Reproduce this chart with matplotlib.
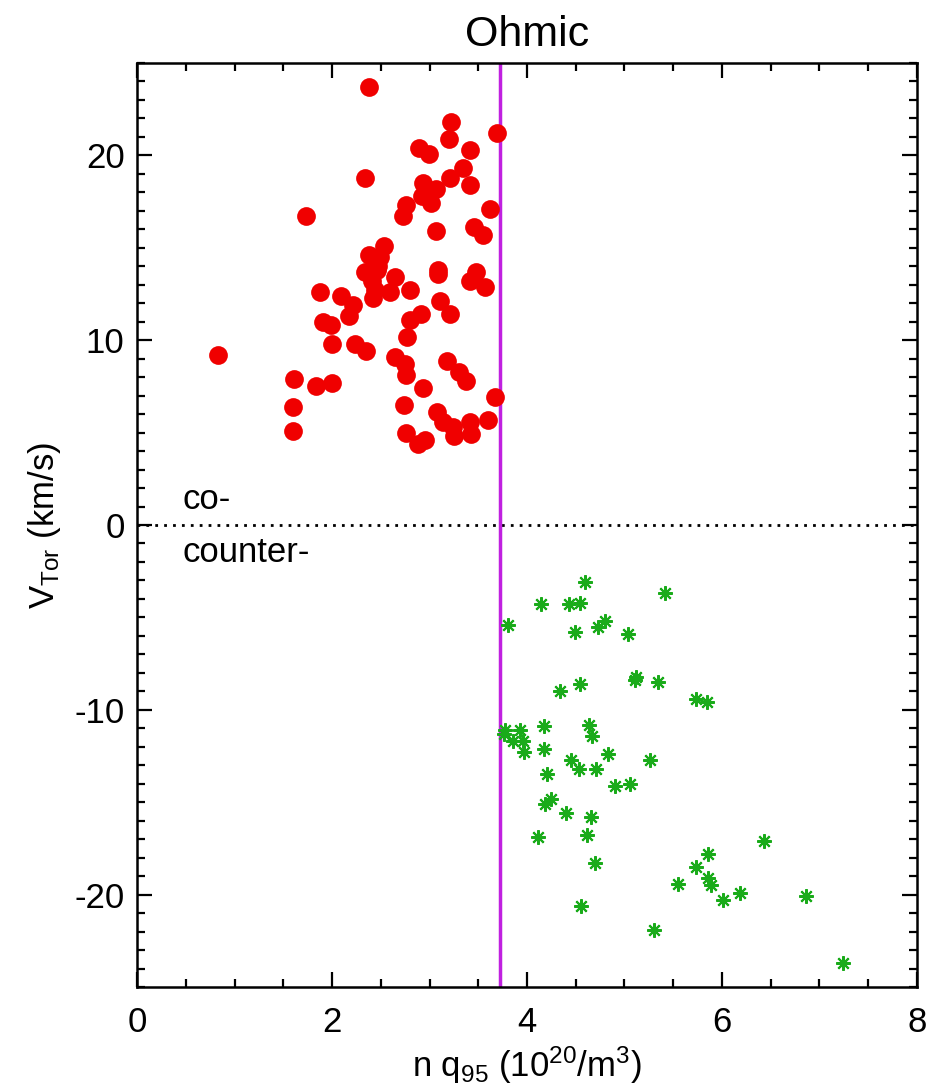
import matplotlib
matplotlib.use("Agg")
import matplotlib.pyplot as plt
from matplotlib.ticker import MultipleLocator

plt.rcParams['font.family'] = ['Liberation Sans', 'DejaVu Sans']
plt.rcParams['mathtext.default'] = 'regular'
plt.rcParams['axes.unicode_minus'] = False

# Co-current (red circles)
co_x = [2.38, 3.22, 3.69, 3.20, 2.89, 2.99, 3.42, 2.34, 3.34, 3.21, 2.93, 3.07,
        3.42, 2.92, 3.02, 2.76, 2.73, 1.73, 3.62, 3.07, 3.46, 3.55, 2.53, 2.38,
        2.49, 2.34, 2.46, 3.09, 3.09, 2.65, 3.48, 3.42, 3.57, 1.88, 2.09, 2.44,
        2.80, 3.11, 2.42, 2.59, 2.22, 2.17, 3.21, 1.91, 1.99, 2.80, 2.91, 2.77,
        2.00, 2.24, 2.35, 0.83, 2.65, 2.75, 2.76, 3.18, 3.30, 3.37, 1.61, 1.84,
        2.00, 2.93, 3.67, 1.60, 2.74, 3.08, 3.14, 3.42, 3.60, 3.24, 3.25, 3.43,
        1.60, 2.76, 2.95, 2.88, 2.41, 2.47]
co_y = [23.7, 21.8, 21.2, 20.9, 20.4, 20.1, 20.3, 18.8, 19.3, 18.8, 18.5, 18.2,
        18.4, 17.8, 17.4, 17.3, 16.7, 16.7, 17.1, 15.9, 16.1, 15.7, 15.1, 14.6,
        14.5, 13.7, 13.8, 13.8, 13.6, 13.4, 13.7, 13.2, 12.9, 12.6, 12.4, 12.7,
        12.7, 12.1, 12.3, 12.6, 11.9, 11.3, 11.4, 11.0, 10.8, 11.1, 11.4, 10.2,
        9.8, 9.8, 9.4, 9.2, 9.1, 8.7, 8.1, 8.9, 8.3, 7.8, 7.9, 7.5,
        7.7, 7.4, 6.9, 6.4, 6.5, 6.1, 5.6, 5.6, 5.7, 5.3, 4.8, 4.9,
        5.1, 5.0, 4.6, 4.4, 13.2, 14.0]

# Counter-current (green asterisks)
ctr_x = [4.59, 5.42, 4.14, 4.43, 4.54, 3.80, 4.49, 4.73, 4.80, 5.04, 4.34, 4.54,
         5.11, 5.12, 5.34, 5.73, 5.85, 3.76, 3.77, 3.93, 3.86, 3.96, 3.97, 4.17,
         4.17, 4.64, 4.67, 4.83, 4.45, 4.53, 4.71, 5.26, 4.21, 4.90, 5.06, 4.25,
         4.18, 4.40, 4.66, 4.11, 4.62, 4.70, 4.55, 5.30, 5.55, 5.73, 5.86, 5.86,
         5.89, 6.01, 6.18, 6.43, 6.86, 7.24]
ctr_y = [-3.1, -3.7, -4.3, -4.3, -4.2, -5.4, -5.8, -5.5, -5.2, -5.9, -9.0, -8.6,
         -8.4, -8.2, -8.5, -9.4, -9.6, -11.3, -11.1, -11.1, -11.7, -11.7, -12.3, -10.9,
         -12.1, -10.8, -11.4, -12.4, -12.7, -13.2, -13.2, -12.7, -13.5, -14.1, -14.0, -14.8,
         -15.1, -15.6, -15.8, -16.9, -16.8, -18.3, -20.6, -21.9, -19.4, -18.5, -17.8, -19.1,
         -19.5, -20.3, -19.9, -17.1, -20.1, -23.7]

threshold_x = 3.72

fig = plt.figure(figsize=(9.27, 10.9), dpi=100)
ax = fig.add_axes([0.1478, 0.0945, 0.8414, 0.8477])

ax.plot(co_x, co_y, 'o', color='#f00000', markersize=13.5, markeredgewidth=0, zorder=3)
ax.plot(ctr_x, ctr_y, linestyle='none', marker=(8, 2, 0), color='#1aab1a',
        markersize=10.5, markeredgewidth=1.5, zorder=3)

ax.axvline(threshold_x, color='#c020e0', linewidth=2.5, zorder=2)
ax.axhline(0, color='black', linestyle=(0, (1, 2.2)), linewidth=2, zorder=1)

ax.text(0.47, 1.4, 'co-', fontsize=25, ha='left', va='center')
ax.text(0.47, -1.5, 'counter-', fontsize=25, ha='left', va='center')

ax.set_xlim(0, 8)
ax.set_ylim(-25, 25)
ax.xaxis.set_major_locator(MultipleLocator(2))
ax.xaxis.set_minor_locator(MultipleLocator(0.5))
ax.yaxis.set_major_locator(MultipleLocator(10))
ax.yaxis.set_minor_locator(MultipleLocator(1))
ax.tick_params(which='both', direction='in', top=True, right=True, width=1.6)
ax.tick_params(which='major', length=11, labelsize=25)
ax.tick_params(axis='x', which='major', pad=14)
ax.tick_params(axis='y', which='major', pad=9)
ax.tick_params(which='minor', length=6)
for s in ax.spines.values():
    s.set_linewidth(1.8)

ax.set_title('Ohmic', fontsize=31, pad=12)
ax.set_xlabel('n q$_{95}$ (10$^{20}$/m$^{3}$)', fontsize=25, labelpad=4)
ax.set_ylabel('V$_{Tor}$ (km/s)', fontsize=25, labelpad=8)

fig.savefig('out.png', dpi=100)
